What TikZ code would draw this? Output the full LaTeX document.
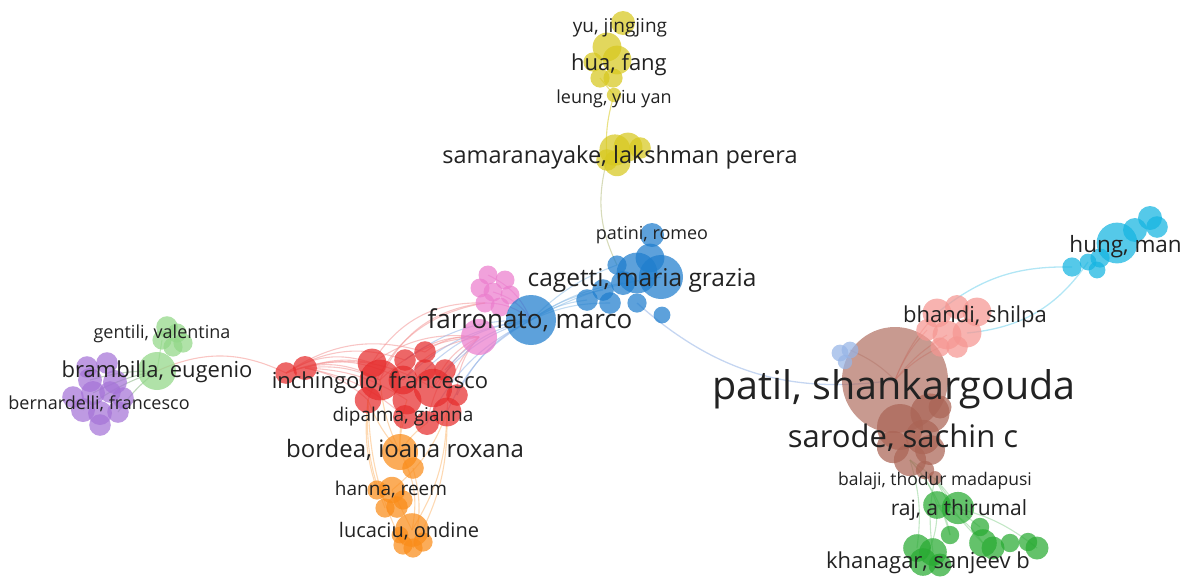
\documentclass[tikz,border=0pt]{standalone}
\usepackage{fontspec}
\setmainfont{Open Sans}
\usetikzlibrary{backgrounds}

\definecolor{textc}{RGB}{34,34,34}
\definecolor{purplec}{RGB}{165,115,215}
\definecolor{lgreenc}{RGB}{145,215,135}
\definecolor{redc}{RGB}{230,45,45}
\definecolor{pinkc}{RGB}{235,125,205}
\definecolor{bluec}{RGB}{30,125,205}
\definecolor{yellowc}{RGB}{215,200,30}
\definecolor{orangec}{RGB}{250,140,25}
\definecolor{brownc}{RGB}{170,100,85}
\definecolor{lbluec}{RGB}{150,180,230}
\definecolor{salmonc}{RGB}{245,150,145}
\definecolor{cyanc}{RGB}{20,180,225}
\definecolor{greenc}{RGB}{40,170,50}

\newcommand{\fs}[1]{\fontsize{#1}{#1}\selectfont}

\tikzstyle{bubble} = [circle,inner sep=0,outer sep=0,fill opacity=0.72]
\tikzstyle{lbl} = [text=textc,inner sep=0,anchor=base]
\tikzstyle{edge} = [line width=1.1pt,draw opacity=0.55]

\begin{document}
\begin{tikzpicture}[x=1pt,y=-1pt]
\useasboundingbox (0,0) rectangle (1184,576);

% purple group
\foreach \n/\x/\y/\r in {1/87/367/9,2/107/363/9,3/90/380/10,4/115/382/10,5/73/397/9,6/93/393/10,7/110/392/9,8/123/398/9,9/83/410/10,10/100/413/10,11/118/412/9,12/100/425/9}
  \node[bubble,fill=purplec,minimum size={2.4*\r}] (pu\n) at (\x,\y) {};

% light green group
\node[bubble,fill=lgreenc,minimum size=38] (bramb) at (157,371) {};
\foreach \n/\x/\y/\r in {1/167/327/9,2/177/333/8,3/162/340/8,4/183/343/8,5/173/347/8}
  \node[bubble,fill=lgreenc,minimum size={2.4*\r}] (ge\n) at (\x,\y) {};

% red group
\foreach \n/\x/\y/\r in {1/286/373/9,2/305/368/10,3/372/363/12,4/405/360/9,5/425/352/9,6/425/370/9,7/445/370/9,8/380/380/17,9/403/380/12,10/433/388/16,11/368/400/11,12/457/395/9,13/407/400/12,14/447/412/12,15/405/417/10,16/427/423/10}
  \node[bubble,fill=redc,minimum size={2.4*\r}] (re\n) at (\x,\y) {};

% orange group
\node[bubble,fill=orangec,minimum size=36] (bordea) at (400,452) {};
\foreach \n/\x/\y/\r in {1/413/468/9,2/377/490/8,3/392/490/11,4/403/500/8,5/385/508/8,6/397/507/9,7/412/530/14,8/403/545/8,9/413/548/8,10/423/542/8,11/400/535/7}
  \node[bubble,fill=orangec,minimum size={2.4*\r}] (or\n) at (\x,\y) {};

% pink group
\node[bubble,fill=pinkc,minimum size=36] (pinkb) at (479,337) {};
\foreach \n/\x/\y in {1/488/275,2/505/280,3/480/288,4/493/292,5/510/295,6/485/303,7/500/307}
  \node[bubble,fill=pinkc,minimum size=19] (pk\n) at (\x,\y) {};

% blue group
\node[bubble,fill=bluec,minimum size=50] (farr) at (531,320) {};
\node[bubble,fill=bluec,minimum size=44] (cag) at (661,277) {};
\foreach \n/\x/\y/\r in {1/637/273/17,2/650/258/12,3/652/235/10,4/617/265/8,5/587/300/9,6/603/290/9,7/610/303/9,8/637/303/8,9/662/315/7,10/623/283/10}
  \node[bubble,fill=bluec,minimum size={2.4*\r}] (bl\n) at (\x,\y) {};

% yellow group
\foreach \n/\x/\y/\r in {1/623/23/10,2/607/47/12,3/617/60/12,4/593/62/8,5/600/78/8,6/613/78/8,7/614/95/6,8/615/150/13,9/628/147/12,10/640/148/9,11/607/160/9,12/617/163/11}
  \node[bubble,fill=yellowc,minimum size={2.4*\r}] (ye\n) at (\x,\y) {};

% brown group
\node[bubble,fill=brownc,fill opacity=0.65,minimum size=106] (patil) at (895,380) {};
\foreach \n/\x/\y/\r in {1/930/413/17,2/900/427/20,3/923/437/15,4/893/447/14,5/930/450/13,6/910/460/14,7/940/407/10,8/925/470/8,9/935/478/6}
  \node[bubble,fill=brownc,minimum size={2.3*\r}] (br\n) at (\x,\y) {};

% light blue group
\foreach \n/\x/\y/\r in {1/840/353/7,2/850/350/7,3/845/362/6}
  \node[bubble,fill=lbluec,minimum size={2.4*\r}] (lb\n) at (\x,\y) {};

% salmon group
\foreach \n/\x/\y/\r in {1/937/313/12,2/957/307/10,3/977/312/12,4/927/330/9,5/947/335/12,6/967/333/12,7/957/347/9,8/940/347/8}
  \node[bubble,fill=salmonc,minimum size={2.4*\r}] (sa\n) at (\x,\y) {};

% cyan group
\foreach \n/\x/\y/\r in {1/1117/243/17,2/1150/218/10,3/1157/227/9,4/1135/230/10,5/1100/258/8,6/1088/262/7,7/1072/267/8,8/1097/270/7}
  \node[bubble,fill=cyanc,minimum size={2.4*\r}] (cy\n) at (\x,\y) {};

% green group
\foreach \n/\x/\y/\r in {1/937/505/12,2/958/508/14,3/950/535/8,4/980/527/8,5/983/543/12,6/993/548/10,7/1010/543/8,8/1028/542/8,9/1037/548/10,10/917/548/12,11/933/552/12,12/923/562/12,13/940/565/10}
  \node[bubble,fill=greenc,minimum size={2.3*\r}] (gr\n) at (\x,\y) {};

% links
\begin{scope}[on background layer]
\foreach \a in {3,6,9,11}
  \draw[edge,lgreenc!60!gray] (pu\a.center) to[bend left=8] (bramb.center);
\draw[edge,lgreenc] (ge3.center) -- (bramb.center);
\draw[edge,salmonc] (bramb.center) to[bend left=25] (re1.center);
\foreach \a in {3,4,5,8,9,10}
  \draw[edge,redc!50] (re1.center) to[bend left=25] (re\a.center);
\foreach \a in {3,8,11,13,15}
  \draw[edge,redc!50] (re2.center) to[bend left=15] (re\a.center);
\foreach \a in {3,4,5,8,9,10,12,14,16}
  \draw[edge,redc!50] (re\a.center) to[bend left=20] (pinkb.center);
\foreach \a in {3,8,11}
  \draw[edge,redc!50] (re\a.center) to[bend left=30] (pk6.center);
\foreach \a in {4,6,7,9,10,12,14,16}
  \draw[edge,lbluec] (re\a.center) to[bend left=18] (farr.center);
\foreach \a in {8,11,13,15,16}
  \draw[edge,orangec!60] (re\a.center) to[bend right=10] (bordea.center);
\foreach \a in {3,7,9}
  \draw[edge,orangec!60] (re14.center) to[bend left=15] (or\a.center);
\foreach \a in {2,5,8}
  \draw[edge,orangec!60] (re11.center) to[bend right=12] (or\a.center);
\draw[edge,orangec!60] (bordea.center) to[bend left=20] (or7.center);
\draw[edge,orangec!60] (or1.center) to[bend left=15] (or9.center);
\draw[edge,orangec!60] (or3.center) -- (or7.center);
\foreach \a in {1,4,6}
  \draw[edge,pinkc] (pk\a.center) to[bend left=20] (farr.center);
\foreach \a in {4,5,6,7,10}
  \draw[edge,bluec!50] (farr.center) to[bend left=12] (bl\a.center);
\draw[edge,bluec!50] (farr.center) to[bend left=10] (cag.center);
\draw[edge,yellowc] (ye7.center) to[bend right=10] (ye11.center);
\draw[edge,yellowc] (ye5.center) -- (ye7.center);
\draw[edge,yellowc!50!lbluec] (ye11.center) to[bend right=20] (bl4.center);
\draw[edge,lbluec,line width=1.3pt] (bl8.center) to[bend right=25] (patil.center);
\foreach \a in {1,4,5,8}
  \draw[edge,salmonc] (patil.center) to[bend left=10] (sa\a.center);
\draw[edge,brownc!60] (lb2.center) to[bend left=10] (patil.center);
\draw[edge,cyanc!60,line width=1.3pt] (sa1.center) to[bend left=20] (cy7.center);
\draw[edge,cyanc!60,line width=1.3pt] (sa6.center) to[bend right=25] (cy6.center);
\foreach \a in {1,2,3,10}
  \draw[edge,greenc!50] (br6.center) to[bend left=12] (gr\a.center);
\foreach \a in {4,5,11}
  \draw[edge,greenc!50] (br9.center) to[bend right=10] (gr\a.center);
\foreach \a in {3,5,9,12}
  \draw[edge,greenc!50] (gr1.center) to[bend left=15] (gr\a.center);
\end{scope}

% author names
\node[lbl,font=\fs{18}] (gentili) at (162,338) {gentili, valentina};
\node[lbl,font=\fs{22}] (brambilla) at (157,377) {brambilla, eugenio};
\node[lbl,font=\fs{18}] (bernardelli) at (99,409) {bernardelli, francesco};
\node[lbl,font=\fs{22}] (inchingolo) at (380,388) {inchingolo, francesco};
\node[lbl,font=\fs{19}] (dipalma) at (403,421) {dipalma, gianna};
\node[lbl,font=\fs{24}] (bordeal) at (405,457) {bordea, ioana roxana};
\node[lbl,font=\fs{19}] (hanna) at (391,495) {hanna, reem};
\node[lbl,font=\fs{20}] (lucaciu) at (409,537) {lucaciu, ondine};
\node[lbl,font=\fs{26}] (farronato) at (530,328) {farronato, marco};
\node[lbl,font=\fs{24.5}] (cagetti) at (642,286) {cagetti, maria grazia};
\node[lbl,font=\fs{18}] (patini) at (652,239) {patini, romeo};
\node[lbl,font=\fs{23.5}] (samaranayake) at (620,163) {samaranayake, lakshman perera};
\node[lbl,font=\fs{18}] (leung) at (614,103) {leung, yiu yan};
\node[lbl,font=\fs{22}] (hua) at (619,70) {hua, fang};
\node[lbl,font=\fs{19}] (yu) at (620,32) {yu, jingjing};
\node[lbl,font=\fs{39.5}] (patill) at (894,399) {patil, shankargouda};
\node[lbl,font=\fs{31}] (sarode) at (903,447) {sarode, sachin c};
\node[lbl,font=\fs{17.5}] (balaji) at (935,485) {balaji, thodur madapusi};
\node[lbl,font=\fs{21}] (raj) at (959,515) {raj, a thirumal};
\node[lbl,font=\fs{22}] (khanagar) at (928,568) {khanagar, sanjeev b};
\node[lbl,font=\fs{22}] (bhandi) at (975,322) {bhandi, shilpa};
\node[lbl,font=\fs{22.5},anchor=base east] (hung) at (1182,252) {hung, man};
\end{tikzpicture}
\end{document}
